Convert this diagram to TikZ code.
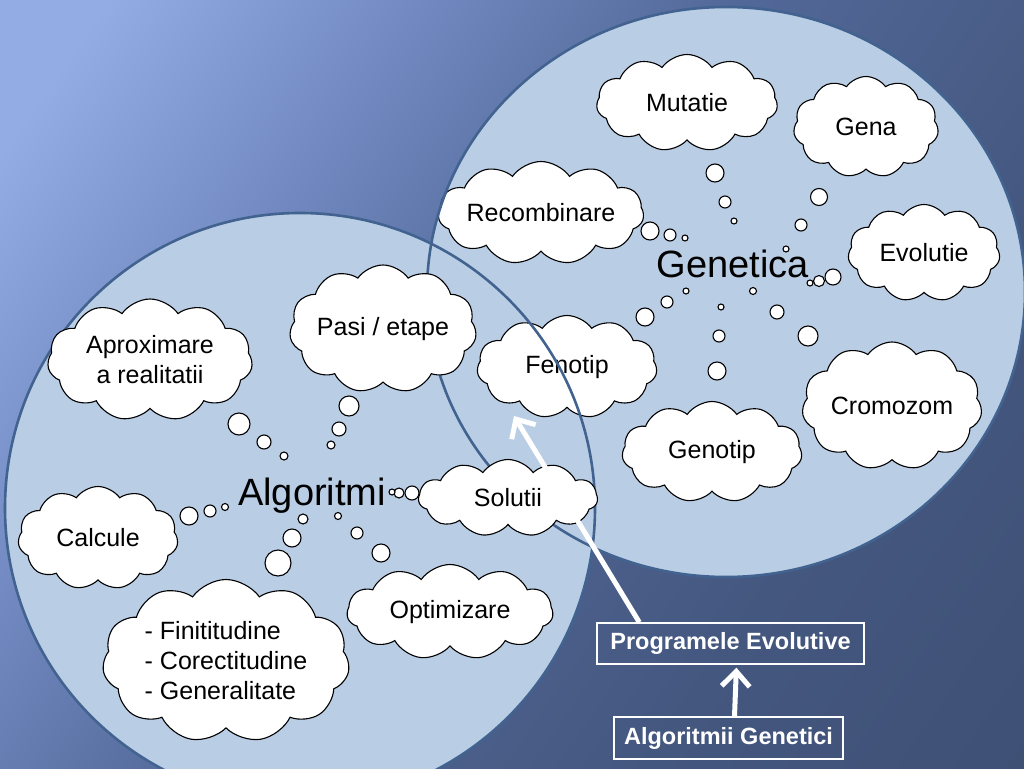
\documentclass[tikz,border=0pt]{standalone}
\usepackage{fontspec}
\setmainfont{Liberation Sans}
\usepackage{tikz}
\usetikzlibrary{shapes.symbols}
\usetikzlibrary{arrows.meta}
\usepackage{xcolor}

\definecolor{bgA}{HTML}{93ACE4}
\definecolor{bgB}{HTML}{6F87BE}
\definecolor{bgC}{HTML}{526898}
\definecolor{bgD}{HTML}{44577F}
\definecolor{bgE}{HTML}{3A4A6C}
\definecolor{ringfill}{HTML}{B9CDE5}
\definecolor{ringblue}{HTML}{42638F}

\pgfdeclarehorizontalshading{slidebg}{100bp}{color(0bp)=(bgA); color(20bp)=(bgA); color(35bp)=(bgB); color(48bp)=(bgC); color(68bp)=(bgD); color(100bp)=(bgE)}

\begin{document}
\begin{tikzpicture}[x=1pt, y=-1pt,
  thought/.style={cloud, cloud puffs=11, cloud puff arc=110, cloud ignores aspect,
    draw=black, fill=white, line width=1.1pt, inner sep=0pt, align=center,
    font=\fontsize{25}{30}\selectfont},
  bubble/.style={draw=black, fill=white, line width=1.1pt},
  ring/.style={draw=ringblue, line width=2.6pt},
  topic/.style={font=\fontsize{38}{44}\selectfont},
  frame/.style={draw=white, line width=1.4pt, text=white, inner sep=0pt,
    font=\bfseries\fontsize{23.5}{28}\selectfont},
  whitearrow/.style={draw=white, line width=5pt,
    -{Straight Barb[length=15pt, width=28pt]}}]

% background
\useasboundingbox (0,0) rectangle (1024,768);
\shade[shading=slidebg, shading angle=-35] (0,0) rectangle (1024,768);

% the two fields
\fill[ringfill] (726,292) ellipse (299pt and 285pt);
\fill[ringfill] (300,508) circle (295pt);

\begin{scope}{
% Genetica
\node[topic] (genetica) at (733,264) {Genetica};

\node[thought, minimum width=181, minimum height=97] (mut) at (687,103) {Mutatie};
\node[thought, minimum width=145, minimum height=101] (gena) at (866,127) {Gena};
\node[thought, minimum width=197, minimum height=103] (rec) at (541,213) {Recombinare};
\node[thought, minimum width=152, minimum height=97] (evo) at (924,253) {Evolutie};
\node[thought, minimum width=180, minimum height=103] (fen) at (567,367) {Fenotip};
\node[thought, minimum width=180, minimum height=128] (cro) at (892,406) {Cromozom};
\node[thought, minimum width=180, minimum height=101] (geno) at (712,452) {Genotip};

%bubbles
\foreach \x/\y/\r in {715/173/9, 725/202/6, 734/221/3,
  819/197/8.5, 801/225/6, 786/249/3,
  650/231/9, 670/235/6, 685/238/3,
  833/277/8, 819/281/5.5, 810/283/3,
  686/291/3, 667/302/6, 645/317/9,
  721/307/3, 719/336/6, 717/371/9,
  753/291/3.5, 777/312/7, 808/336/10}
  \draw[bubble] (\x,\y) circle (\r pt);
} \end{scope}

% borders
\draw[ring] (726,292) ellipse (299pt and 285pt);
\draw[ring] (300,508) circle (295pt);

\begin{scope}{
% Algoritmi
\node[topic] (algoritmi) at (312,496) {Algoritmi};

\node[thought, minimum width=205, minimum height=122] (apr) at (150,360) {Aproximare\\a realitatii};
\node[thought, minimum width=187, minimum height=128] (pasi) at (383,329) {Pasi / etape};
\node[thought, minimum width=160, minimum height=103] (calc) at (98,538) {Calcule};
\node[thought, minimum width=179, minimum height=77] (sol) at (508,498) {Solutii};
\node[thought, minimum width=206, minimum height=95] (opt) at (450,612) {Optimizare};
\node[thought, minimum width=247, minimum height=163, align=left] (lst) at (226,661)
  {- Finititudine\\- Corectitudine\\- Generalitate};

%bubbles
\foreach \x/\y/\r in {239/424/11, 264/442/7, 284/456/4,
  349/406/10, 339/429/7, 331/445/4,
  189/516/9, 210/511/6, 225/507/3.5,
  412/493/7, 399/493/5, 392/492/3,
  303/519/5, 292/538/9, 278/563/13,
  338/516/3.5, 357/533/6, 381/553/9}
  \draw[bubble] (\x,\y) circle (\r pt);
} \end{scope}

% boxes and arrows
\node[frame, minimum width=267, minimum height=41] (progbox) at (730.5,643.5) {Programele Evolutive};
\node[frame, minimum width=229, minimum height=42] (algbox) at (728.5,738) {Algoritmii Genetici};

\coordinate (fentip) at (514,416);
\draw[whitearrow] ([xshift=43pt]progbox.north west) -- (fentip);
\draw[whitearrow, shorten >=3pt] ([xshift=6pt]algbox.north) -- ([xshift=6pt]progbox.south);

\end{tikzpicture}
\end{document}
